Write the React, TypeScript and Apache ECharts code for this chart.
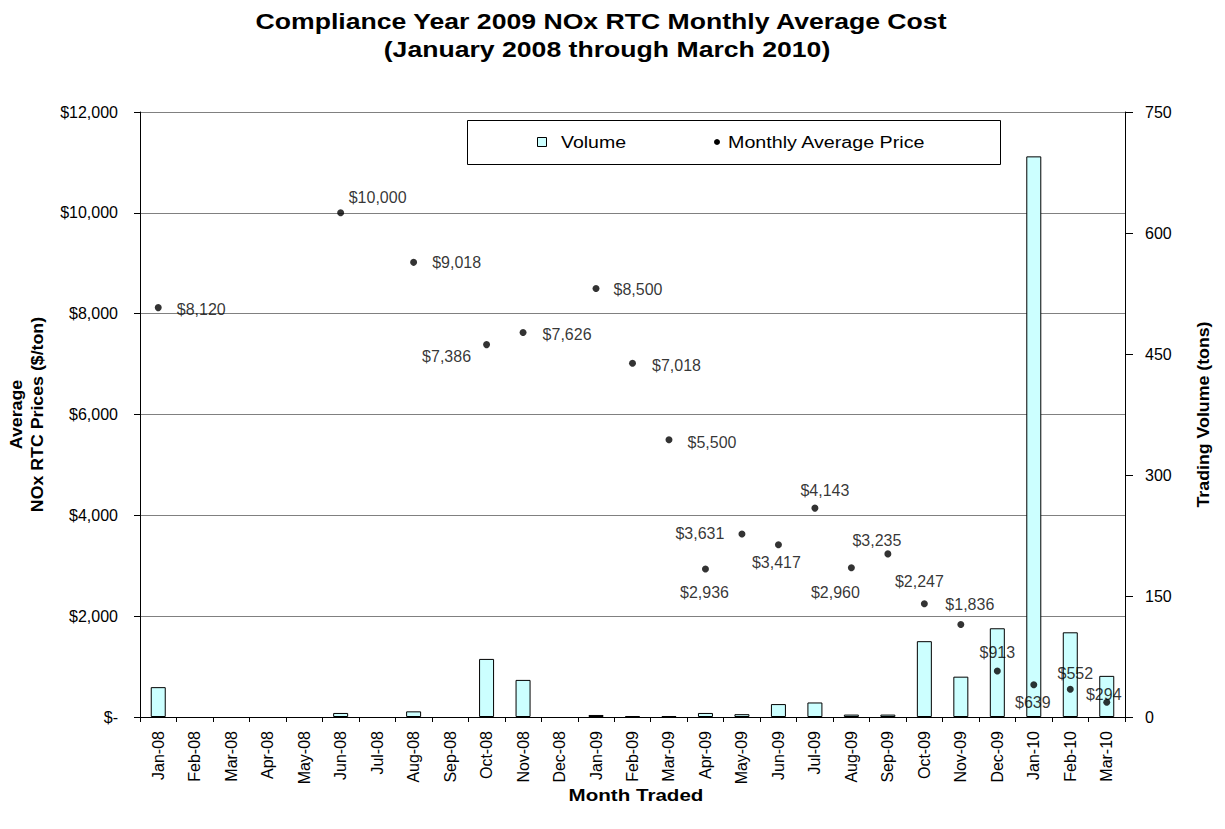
import React, { useEffect, useRef } from "react";
import * as echarts from "echarts";

const months = [
  "Jan-08", "Feb-08", "Mar-08", "Apr-08", "May-08", "Jun-08", "Jul-08", "Aug-08", "Sep-08",
  "Oct-08", "Nov-08", "Dec-08", "Jan-09", "Feb-09", "Mar-09", "Apr-09", "May-09", "Jun-09",
  "Jul-09", "Aug-09", "Sep-09", "Oct-09", "Nov-09", "Dec-09", "Jan-10", "Feb-10", "Mar-10",
];

// Trading volume (tons)
const volume = [
  37, 0, 0, 0, 0, 5, 0, 7, 0,
  72, 46, 0, 2.5, 1, 1, 5, 3.5, 16,
  18, 3, 3, 94, 50, 110, 695, 105, 51,
];

// Monthly average price ($/ton); null = no trades
const price = [
  8120, null, null, null, null, 10000, null, 9018, null,
  7386, 7626, null, 8500, 7018, 5500, 2936, 3631, 3417,
  4143, 2960, 3235, 2247, 1836, 913, 639, 552, 294,
];

const priceTicks = [0, 2000, 4000, 6000, 8000, 10000, 12000];
const volumeTicks = [0, 150, 300, 450, 600, 750];

// label placement (style only): offset of label centre from the dot
const labelOffsets: ([number, number] | null)[] = [
  [43, 2], null, null, null, null, [37, -15], null, [43, 0], null,
  [-40, 12], [44, 2], null, [42, 1], [44, 2], [43, 3], [-1, 24], [-42, 0], [-2, 18],
  [10, -18], [-16, 25], [-11, -13], [-5, -22], [9, -20], [0, -18], [-1, 18], [5, -16], [-3, -8],
];

const FONT = '"Liberation Sans", Arial, Helvetica, sans-serif';

const fmtPrice = (v: number) => (v === 0 ? "$-" : "$" + v.toLocaleString("en-US"));

export default function App() {
  const ref = useRef<HTMLDivElement>(null);

  useEffect(() => {
    if (!ref.current) return;
    const chart = echarts.init(ref.current, null, { renderer: "svg" });

    const barData = volume.map((v) => (v === 0 ? "-" : v));
    const scatterData = price.map((p, i) =>
      p == null
        ? "-"
        : {
            value: p,
            label: { offset: labelOffsets[i] || [0, 0] },
          }
    );

    chart.setOption({
      animation: false,
      backgroundColor: "#fff",
      textStyle: { fontFamily: FONT },
      grid: { left: 140, right: 100, top: 112, bottom: 112 },
      xAxis: {
        type: "category",
        data: months,
        boundaryGap: true,
        axisLine: { show: true, lineStyle: { color: "#000", width: 1 } },
        axisTick: { show: true, alignWithLabel: false, length: 5, lineStyle: { color: "#000" } },
        axisLabel: {
          interval: 0,
          rotate: 90,
          margin: 14,
          fontSize: 16,
          color: "#000",
          fontFamily: FONT,
        },
        splitLine: { show: false },
      },
      yAxis: [
        {
          type: "value",
          position: "left",
          min: priceTicks[0],
          max: priceTicks[priceTicks.length - 1],
          interval: priceTicks[1] - priceTicks[0],
          axisLine: { show: true, lineStyle: { color: "#000", width: 1 } },
          axisTick: { show: true, length: 6, lineStyle: { color: "#000" } },
          axisLabel: {
            margin: 22,
            fontSize: 16,
            color: "#000",
            fontFamily: FONT,
            formatter: (v: number) => fmtPrice(v),
          },
          splitLine: { show: true, lineStyle: { color: "#808080", width: 1 } },
        },
        {
          type: "value",
          position: "right",
          min: volumeTicks[0],
          max: volumeTicks[volumeTicks.length - 1],
          interval: volumeTicks[1] - volumeTicks[0],
          axisLine: { show: true, lineStyle: { color: "#000", width: 1 } },
          axisTick: { show: true, length: 8, lineStyle: { color: "#000" } },
          axisLabel: { margin: 20, fontSize: 16, color: "#000", fontFamily: FONT },
          splitLine: { show: false },
        },
      ],
      series: [
        {
          name: "Volume",
          type: "bar",
          yAxisIndex: 1,
          data: barData,
          barWidth: 15,
          itemStyle: { color: "#CCFFFF", borderColor: "#000", borderWidth: 1 },
          z: 2,
        },
        {
          name: "Monthly Average Price",
          type: "scatter",
          yAxisIndex: 0,
          data: scatterData,
          symbol: "circle",
          symbolSize: 7,
          itemStyle: { color: "#000" },
          label: {
            show: true,
            position: "inside",
            align: "center",
            verticalAlign: "middle",
            fontSize: 16,
            color: "#000",
            fontFamily: FONT,
            formatter: (p: any) => fmtPrice(Number(p.value)),
          },
          z: 3,
        },
      ],
      graphic: [
        {
          type: "text",
          x: 601,
          y: 21.5,
          scaleX: 1.21,
          style: {
            text: "Compliance Year 2009 NOx RTC Monthly Average Cost",
            font: `bold 22px ${FONT}`,
            fill: "#000",
            textAlign: "center",
            textVerticalAlign: "middle",
          },
        },
        {
          type: "text",
          x: 607,
          y: 49,
          scaleX: 1.21,
          style: {
            text: "(January 2008 through March 2010)",
            font: `bold 22px ${FONT}`,
            fill: "#000",
            textAlign: "center",
            textVerticalAlign: "middle",
          },
        },
        {
          type: "text",
          x: 636,
          y: 795,
          scaleX: 1.21,
          style: {
            text: "Month Traded",
            font: `bold 17px ${FONT}`,
            fill: "#000",
            textAlign: "center",
            textVerticalAlign: "middle",
          },
        },
        {
          type: "text",
          x: 27,
          y: 414.5,
          rotation: Math.PI / 2,
          scaleX: 1.11,
          style: {
            text: "Average\nNOx RTC Prices ($/ton)",
            font: `bold 16px ${FONT}`,
            lineHeight: 21,
            fill: "#000",
            textAlign: "center",
            textVerticalAlign: "middle",
          },
        },
        {
          type: "text",
          x: 1204,
          y: 414.5,
          rotation: Math.PI / 2,
          scaleX: 1.11,
          style: {
            text: "Trading Volume (tons)",
            font: `bold 16px ${FONT}`,
            fill: "#000",
            textAlign: "center",
            textVerticalAlign: "middle",
          },
        },
        // legend
        {
          type: "rect",
          shape: { x: 467.5, y: 120.5, width: 533, height: 44 },
          style: { fill: "#fff", stroke: "#000", lineWidth: 1 },
          z: 10,
        },
        {
          type: "rect",
          shape: { x: 537.5, y: 137.5, width: 9, height: 9 },
          style: { fill: "#CCFFFF", stroke: "#000", lineWidth: 1 },
          z: 11,
        },
        {
          type: "text",
          x: 561,
          y: 143,
          scaleX: 1.22,
          style: {
            text: "Volume",
            font: `16px ${FONT}`,
            fill: "#000",
            textAlign: "left",
            textVerticalAlign: "middle",
          },
          z: 11,
        },
        {
          type: "circle",
          shape: { cx: 717, cy: 142, r: 3 },
          style: { fill: "#000" },
          z: 11,
        },
        {
          type: "text",
          x: 728,
          y: 143,
          scaleX: 1.23,
          style: {
            text: "Monthly Average Price",
            font: `16px ${FONT}`,
            fill: "#000",
            textAlign: "left",
            textVerticalAlign: "middle",
          },
          z: 11,
        },
      ],
    });

    return () => chart.dispose();
  }, []);

  return (
    <div
      ref={ref}
      style={{ position: "absolute", left: 0, top: 0, width: 1225, height: 829 }}
    />
  );
}
